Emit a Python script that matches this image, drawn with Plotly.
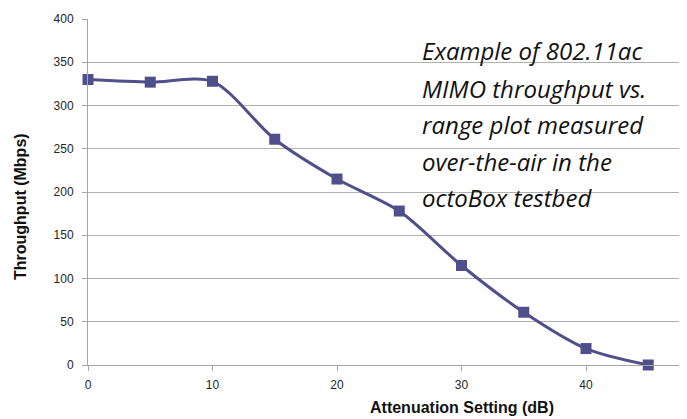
import plotly.graph_objects as go

attenuation_db = [0, 5, 10, 15, 20, 25, 30, 35, 40, 45]
throughput_mbps = [330, 327, 328, 261, 215, 178, 115, 61, 19, 0]
y_ticks = [0, 50, 100, 150, 200, 250, 300, 350, 400]
x_ticks = [0, 10, 20, 30, 40]
note_lines = [
    "Example of 802.11ac",
    "MIMO throughput vs.",
    "range plot measured",
    "over-the-air in the",
    "octoBox testbed",
]

# page body has an 8px margin, so figure is placed at (8, 8)
OFF = 8
W, H = 687 - OFF, 419 - OFF
L, T, B = 88 - OFF, 19 - OFF, 54
PW, PH = W - L, H - T - B  # plot area size


def px_x(x):
    return (x - L - OFF) / PW


def px_y(y):
    return (365 - y) / PH


color = "#4F4F8C"
fig = go.Figure()
fig.add_trace(go.Scatter(
    x=attenuation_db, y=throughput_mbps, mode="lines+markers",
    line=dict(color=color, width=3, shape="spline", smoothing=0.8),
    marker=dict(symbol="square", size=11, color=color),
    showlegend=False, cliponaxis=False,
))

fig.update_layout(
    width=W, height=H,
    margin=dict(l=L, r=0, t=T, b=B),
    paper_bgcolor="white", plot_bgcolor="white",
    font=dict(family="Liberation Sans, Arial, sans-serif", size=12, color="#262626"),
    xaxis=dict(range=[0, PW / 12.45], tickvals=x_ticks, showgrid=False, zeroline=False,
               showline=True, linecolor="#A6A6A6", linewidth=1,
               ticks="outside", ticklen=5, tickcolor="#A6A6A6", ticklabelstandoff=4),
    yaxis=dict(range=[0, 400], tickvals=y_ticks, showgrid=True, gridcolor="#B0B0B0",
               gridwidth=1, zeroline=False, showline=True, linecolor="#A6A6A6",
               linewidth=1, ticks="outside", ticklen=5, tickcolor="#A6A6A6",
               ticklabelstandoff=6),
)

fig.add_annotation(text="<b>Attenuation Setting (dB)</b>", xref="paper", yref="paper",
                   x=px_x(462), y=px_y(408), showarrow=False,
                   font=dict(size=16, color="#111"), xanchor="center", yanchor="middle")
fig.add_annotation(text="<b>Throughput (Mbps)</b>", xref="paper", yref="paper",
                   x=px_x(20), y=px_y(207), showarrow=False, textangle=-90,
                   font=dict(size=16, color="#111"), xanchor="center", yanchor="middle")

baselines = [60, 97, 133, 170, 207]
for line, b in zip(note_lines, baselines):
    fig.add_annotation(text=f"<i>{line}</i>", xref="paper", yref="paper",
                       x=px_x(420), y=px_y(b - 9), showarrow=False,
                       xanchor="left", yanchor="middle",
                       font=dict(family="Open Sans, sans-serif", size=24, color="#111"))

fig.write_html("out.html")
